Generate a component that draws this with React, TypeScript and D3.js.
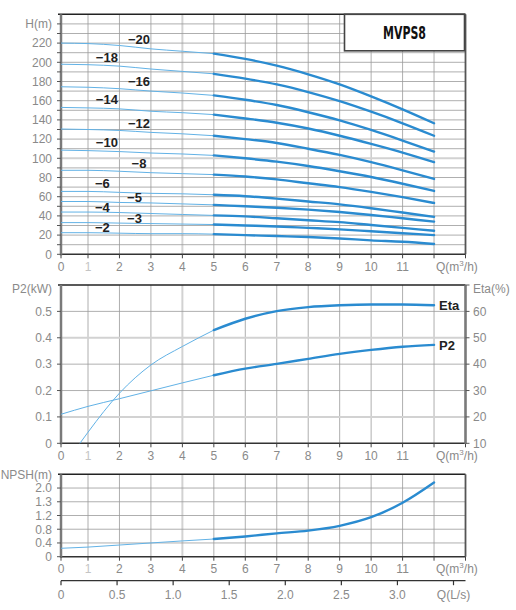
import * as d3 from 'd3';
import React, { useEffect, useRef } from 'react';

// flow points (m3/h) the curves were read at
const flowQ = [0, 1, 2, 3, 4, 5, 6, 7, 8, 9, 10, 11, 12];

// H(m) per number of stages
const stages = [20, 18, 16, 14, 12, 10, 8, 6, 5, 4, 3, 2];
const head20 = [220, 219.5, 217.5, 214, 211.5, 209, 203.5, 196.5, 187.5, 177, 164.5, 151, 136.5];
const head18 = [198, 197.5, 196, 193, 190.5, 188, 183, 177, 169, 159.5, 148.5, 136.5, 123.5];
const head16 = [174.5, 174, 172.5, 170, 168, 165.5, 161, 155.5, 148, 139.5, 129.5, 118.5, 107];
const head14 = [153, 152.5, 151.5, 149, 147.5, 145.5, 141.5, 137, 131, 123.5, 115, 106, 96];
const head12 = [130.5, 130, 129, 127, 125.5, 123.5, 120, 116, 110, 103.5, 96, 87.5, 78.5];
const head10 = [108.5, 108, 107, 105.5, 104.5, 103, 100, 96.5, 92, 86.5, 80.5, 73.5, 66];
const head8 = [87.5, 87.5, 86.5, 85, 84, 83, 81, 78, 74, 70, 65, 59.5, 53.5];
const head6 = [65.5, 65.5, 64.5, 63.5, 63, 62, 60.5, 58, 55, 52, 48, 43.5, 39];
const head5 = [55, 55, 54, 53.5, 52.5, 51.5, 50, 48.5, 46.5, 44, 41, 37.5, 34];
const head4 = [44, 44, 43.5, 42.5, 41.5, 40.5, 39.5, 37.5, 35.5, 33.5, 30.5, 27.5, 24.5];
const head3 = [33, 33, 32.5, 32, 31.5, 31, 30, 29, 27.5, 26, 24, 22, 20];
const head2 = [22.5, 22.5, 22, 21.5, 21.5, 21, 20, 19, 18, 16.5, 14.5, 13, 10.7];
const heads = [head20, head18, head16, head14, head12, head10, head8, head6, head5, head4, head3, head2];

// power / efficiency
const p2Values = [0.11, 0.14, 0.169, 0.199, 0.229, 0.258, 0.283, 0.301, 0.32, 0.339, 0.354, 0.366, 0.373];
const etaQ = [0.7, 1, 2, 3, 4, 5, 6, 7, 8, 9, 10, 11, 12];
const etaValues = [10, 14.2, 29, 39.7, 46.7, 52.9, 57.2, 60.1, 61.6, 62.3, 62.6, 62.6, 62.3];

// NPSH
const npshValues = [0.245, 0.28, 0.34, 0.4, 0.46, 0.515, 0.59, 0.68, 0.76, 0.9, 1.15, 1.57, 2.16];

// ticks
const qTickLabels = ['0', '1', '2', '3', '4', '5', '6', '7', '8', '9', '10', '11'];
const hTicks = [0, 20, 40, 60, 80, 100, 120, 140, 160, 180, 200, 220];
const p2Ticks = [0, 0.1, 0.2, 0.3, 0.4, 0.5];
const etaTicks = [10, 20, 30, 40, 50, 60];
const npshTicks = [0, 0.4, 0.8, 1.2, 1.6, 2.0];
const npshTickLabels = ['0', '0.4', '0.8', '1.2', '1.3', '2.0'];
const lsTicks = [0, 0.5, 1.0, 1.5, 2.0, 2.5, 3.0];

const FONT = '"Liberation Sans", Arial, sans-serif';
const THICK = '#2a8bd0';
const THIN = '#62b2e6';
const GRID = '#9a9a9a';
const GRID_LIGHT = '#d2d2d2';
const LABEL = '#8a8a8a';

const App = () => {
  const svgRef = useRef(null);

  useEffect(() => {
    const svg = d3.select(svgRef.current);
    svg.selectAll('*').remove();

    const x = d3.scaleLinear().domain([0, 1, 13]).range([61, 88, 465.5]);
    const xL = 61;
    const xR = x(13);

    const line = (y) =>
      d3
        .line<[number, number]>()
        .x((d) => x(d[0]))
        .y((d) => y(d[1]))
        .curve(d3.curveMonotoneX);

    // thin before Q=5, thick after
    const drawCurve = (y, qs: number[], vs: number[]) => {
      const pts: [number, number][] = qs.map((q, i) => [q, vs[i]]);
      svg
        .append('path')
        .attr('d', line(y)(pts.filter((p) => p[0] <= 5)))
        .attr('fill', 'none')
        .attr('stroke', THIN)
        .attr('stroke-width', 1);
      svg
        .append('path')
        .attr('d', line(y)(pts.filter((p) => p[0] >= 5)))
        .attr('fill', 'none')
        .attr('stroke', THICK)
        .attr('stroke-width', 2.4)
        .attr('stroke-linecap', 'round');
    };

    const panel = (y, hGrid: number[], lightH: number[], top: number, bottom: number) => {
      const g = svg.append('g');
      const yt = y(top);
      const yb = y(bottom);
      // vertical grid
      g.selectAll('.vg')
        .data(d3.range(1, 13))
        .join('line')
        .attr('x1', (d) => x(d))
        .attr('x2', (d) => x(d))
        .attr('y1', yt)
        .attr('y2', yb)
        .attr('stroke', (d) => (d === 4 ? GRID_LIGHT : GRID))
        .attr('stroke-width', (d) => (d === 4 ? 2 : 0.8));
      // horizontal grid
      g.selectAll('.hg')
        .data(hGrid)
        .join('line')
        .attr('x1', xL)
        .attr('x2', xR)
        .attr('y1', (d) => y(d))
        .attr('y2', (d) => y(d))
        .attr('stroke', (d) => (lightH.includes(d) ? GRID_LIGHT : GRID))
        .attr('stroke-width', (d) => (lightH.includes(d) ? 2 : 0.8));
      // frame
      g.append('line').attr('x1', xL - 3).attr('x2', xR).attr('y1', yt).attr('y2', yt)
        .attr('stroke', '#222').attr('stroke-width', 1.5);
      g.append('line').attr('x1', xR).attr('x2', xR).attr('y1', yt).attr('y2', yb)
        .attr('stroke', '#555').attr('stroke-width', 1.8);
      g.append('line').attr('x1', xL).attr('x2', xR).attr('y1', yb).attr('y2', yb)
        .attr('stroke', '#333').attr('stroke-width', 1.5);
      g.append('line').attr('x1', xL).attr('x2', xL).attr('y1', yt).attr('y2', yb + 1)
        .attr('stroke', '#7a7a7a').attr('stroke-width', 2.5);
      // x ticks
      g.selectAll('.xt')
        .data(d3.range(0, 14))
        .join('line')
        .attr('x1', (d) => x(d))
        .attr('x2', (d) => x(d))
        .attr('y1', yb)
        .attr('y2', yb + 4)
        .attr('stroke', '#444')
        .attr('stroke-width', 1);
      g.selectAll('.xl')
        .data(qTickLabels)
        .join('text')
        .attr('x', (d, i) => x(i))
        .attr('y', yb + 16.5)
        .attr('text-anchor', 'middle')
        .attr('fill', (d, i) => (i === 1 ? '#c4c4c4' : LABEL))
        .attr('font-size', 12)
        .attr('font-family', FONT)
        .text((d) => d);
      const qt = g.append('text')
        .attr('x', x(12) + 2)
        .attr('y', yb + 16.5)
        .attr('fill', LABEL)
        .attr('font-size', 12)
        .attr('font-family', FONT);
      qt.append('tspan').text('Q(m');
      qt.append('tspan').attr('dy', -5).attr('font-size', 8).text('3');
      qt.append('tspan').attr('dy', 5).text('/h)');
      return g;
    };

    const leftTicks = (y, ticks: number[], labels: string[], tickVals: number[], unit: string, unitVal: number) => {
      const g = svg.append('g');
      g.selectAll('line')
        .data(tickVals)
        .join('line')
        .attr('x1', xL - 4)
        .attr('x2', xL)
        .attr('y1', (d) => y(d))
        .attr('y2', (d) => y(d))
        .attr('stroke', '#555')
        .attr('stroke-width', 1);
      g.selectAll('text')
        .data(ticks)
        .join('text')
        .attr('x', 52)
        .attr('y', (d) => y(d))
        .attr('dy', '0.36em')
        .attr('text-anchor', 'end')
        .attr('fill', LABEL)
        .attr('font-size', 12)
        .attr('font-family', FONT)
        .text((d, i) => labels[i]);
      svg.append('text')
        .attr('x', 52)
        .attr('y', y(unitVal))
        .attr('dy', '0.36em')
        .attr('text-anchor', 'end')
        .attr('fill', LABEL)
        .attr('font-size', 12)
        .attr('font-family', FONT)
        .text(unit);
    };

    // ---------- H panel ----------
    const yH = d3.scaleLinear().domain([0, 250]).range([254.3, 14.3]);
    panel(yH, d3.range(10, 250, 10), [100], 250, 0);
    leftTicks(yH, hTicks, hTicks.map(String), d3.range(0, 250, 10), 'H(m)', 240);

    heads.forEach((vals) => drawCurve(yH, flowQ, vals));

    heads.forEach((vals, i) => {
      const s = stages[i];
      const shift = s <= 6 ? -4.5 : 0;
      const lq = i % 2 === 0 ? 2.62 : 1.6;
      const at = d3.scaleLinear().domain(flowQ).range(vals);
      svg.append('text')
        .attr('x', x(lq) + shift)
        .attr('y', yH(at(lq)) - (s >= 6 ? 4 : 0.5))
        .attr('text-anchor', 'middle')
        .attr('font-size', 13)
        .attr('font-weight', 'bold')
        .attr('font-family', FONT)
        .attr('fill', '#222')
        .text('\u2212' + s);
    });

    // model box
    svg.append('rect')
      .attr('x', 344.5).attr('y', 14.3).attr('width', 120).attr('height', 36.5)
      .attr('fill', '#fff').attr('stroke', '#444').attr('stroke-width', 1.6);
    svg.append('text')
      .attr('x', 404.5).attr('y', 39.3)
      .attr('text-anchor', 'middle')
      .attr('font-size', 17)
      .attr('font-weight', 'bold')
      .attr('font-family', '"Liberation Sans Narrow", "DejaVu Sans Condensed", sans-serif')
      .attr('textLength', 43)
      .attr('lengthAdjust', 'spacingAndGlyphs')
      .attr('fill', '#111')
      .text('MVPS8');

    // ---------- P2 / Eta panel ----------
    const yP = d3.scaleLinear().domain([0, 0.6]).range([443.3, 285]);
    const yE = d3.scaleLinear().domain([10, 70]).range([443.3, 285]);
    panel(yP, [0.1, 0.2, 0.3, 0.4, 0.5], [0.1, 0.4], 0.6, 0);
    leftTicks(yP, p2Ticks, p2Ticks.map((d) => (d === 0 ? '0' : d.toFixed(1))), p2Ticks, 'P2(kW)', 0.585);
    // right axis
    svg.append('line').attr('x1', xR).attr('x2', xR).attr('y1', 285).attr('y2', 444)
      .attr('stroke', '#7a7a7a').attr('stroke-width', 2.2);
    svg.append('g').selectAll('line')
      .data(etaTicks.concat([70]))
      .join('line')
      .attr('x1', xR).attr('x2', xR + 4)
      .attr('y1', (d) => yE(d)).attr('y2', (d) => yE(d))
      .attr('stroke', '#555').attr('stroke-width', 1);
    svg.append('g').selectAll('text')
      .data(etaTicks)
      .join('text')
      .attr('x', 473)
      .attr('y', (d) => yE(d))
      .attr('dy', '0.36em')
      .attr('fill', LABEL)
      .attr('font-size', 12)
      .attr('font-family', FONT)
      .text((d) => d);
    svg.append('text')
      .attr('x', 473).attr('y', yE(68.5)).attr('dy', '0.36em')
      .attr('fill', LABEL).attr('font-size', 12).attr('font-family', FONT)
      .text('Eta(%)');

    drawCurve(yP, flowQ, p2Values);
    drawCurve(yE, etaQ, etaValues);

    svg.append('text')
      .attr('x', x(12) + 5).attr('y', yE(etaValues[etaValues.length - 1])).attr('dy', '0.36em')
      .attr('font-size', 13).attr('font-weight', 'bold').attr('font-family', FONT).attr('fill', '#222')
      .text('Eta');
    svg.append('text')
      .attr('x', x(12) + 5).attr('y', yP(p2Values[p2Values.length - 1])).attr('dy', '0.36em')
      .attr('font-size', 13).attr('font-weight', 'bold').attr('font-family', FONT).attr('fill', '#222')
      .text('P2');

    // ---------- NPSH panel ----------
    const yN = d3.scaleLinear().domain([0, 2.4]).range([556.7, 474.3]);
    panel(yN, [0.4, 0.8, 1.2, 1.6, 2.0], [], 2.4, 0);
    leftTicks(yN, npshTicks, npshTickLabels, npshTicks, 'NPSH(m)', 2.4);
    drawCurve(yN, flowQ, npshValues);

    // L/s axis
    const xLs = d3.scaleLinear().domain([0, 3.5]).range([61, 453.5]);
    const lsY = 580.7;
    svg.append('line').attr('x1', xL).attr('x2', xR).attr('y1', lsY).attr('y2', lsY)
      .attr('stroke', '#333').attr('stroke-width', 1.3);
    svg.append('g').selectAll('line')
      .data(lsTicks.concat([3.5]))
      .join('line')
      .attr('x1', (d) => xLs(d)).attr('x2', (d) => xLs(d))
      .attr('y1', lsY).attr('y2', lsY + 4.5)
      .attr('stroke', '#333').attr('stroke-width', 1.2);
    svg.append('g').selectAll('text')
      .data(lsTicks)
      .join('text')
      .attr('x', (d) => xLs(d))
      .attr('y', lsY + 18.5)
      .attr('text-anchor', 'middle')
      .attr('fill', LABEL)
      .attr('font-size', 12)
      .attr('font-family', FONT)
      .text((d) => (d === 0 ? '0' : d.toFixed(1)));
    svg.append('text')
      .attr('x', xLs(3.5)).attr('y', lsY + 18.5)
      .attr('text-anchor', 'middle')
      .attr('fill', LABEL).attr('font-size', 12).attr('font-family', FONT)
      .text('Q(L/s)');
  }, []);

  return (
    <svg
      ref={svgRef}
      width={516}
      height={610}
      style={{ position: 'absolute', left: 0, top: 0, background: '#fff' }}
    ></svg>
  );
};

export default App;
